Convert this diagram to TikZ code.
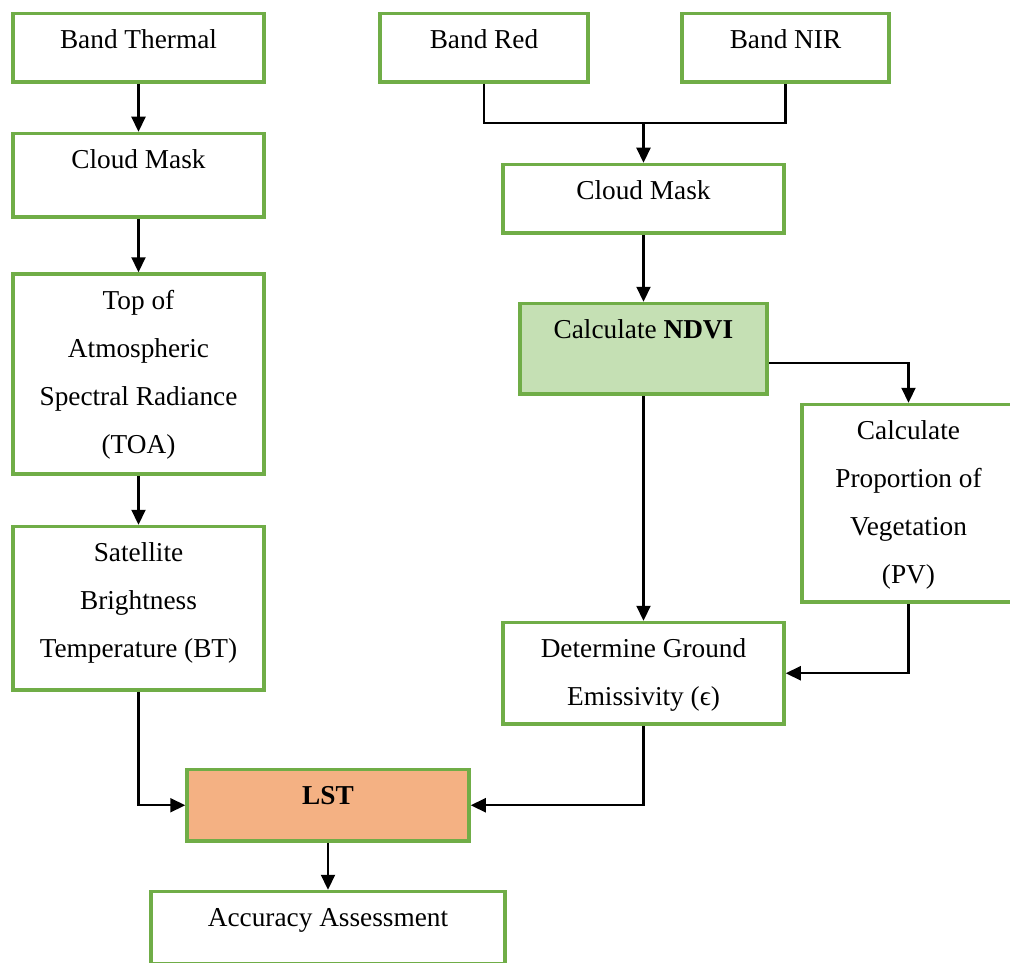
\documentclass[tikz,border=0pt]{standalone}
\usepackage{fontspec}
\setmainfont{Liberation Serif}
\usetikzlibrary{arrows.meta}
\definecolor{boxgreen}{HTML}{70AD47}
\definecolor{ndvifill}{HTML}{C5E0B4}
\definecolor{lstfill}{HTML}{F4B183}
\begin{document}
\begin{tikzpicture}[x=1pt,y=-1pt,
  box/.style={draw=boxgreen, line width=3.5pt, rectangle, inner sep=0pt, fill=white},
  lbl/.style={anchor=north, inner sep=0pt, align=center,
    font=\fontsize{27.3}{48}\selectfont, yshift=-3.4pt},
  conn/.style={line width=2.2pt},
  arr/.style={line width=2.2pt, -{Triangle[length=15pt,width=14pt]}}]
\useasboundingbox (0,0) rectangle (1010,963);

% process boxes
\node[box, minimum width=251pt, minimum height=68.5pt] (bt) at (138.5,47.75) {};
\node[box, minimum width=208pt, minimum height=68.5pt] (red) at (484,47.75) {};
\node[box, minimum width=207pt, minimum height=68.5pt] (nir) at (785.5,47.75) {};
\node[box, minimum width=251pt, minimum height=83.5pt] (cml) at (138.5,175.25) {};
\node[box, minimum width=281pt, minimum height=68.5pt] (cmr) at (643.5,198.75) {};
\node[box, minimum width=251pt, minimum height=200pt] (toa) at (138.5,374) {};
\node[box, fill=ndvifill, minimum width=247pt, minimum height=90.5pt] (ndvi) at (643.5,348.75) {};
\node[box, minimum width=213pt, minimum height=197.5pt] (pv) at (908.5,503.25) {};
\node[box, minimum width=251pt, minimum height=163.5pt] (btemp) at (138.5,608.25) {};
\node[box, minimum width=281pt, minimum height=101.5pt] (det) at (643.5,673.25) {};
\node[box, fill=lstfill, minimum width=282pt, minimum height=71.5pt] (lst) at (328,805.25) {};
\node[box, minimum width=354pt, minimum height=72.5pt] (acc) at (328,927.75) {};

% box texts, set from the top edge
\node[lbl] (bt-t) at (bt.north) {\strut Band Thermal};
\node[lbl] (red-t) at (red.north) {\strut Band Red};
\node[lbl] (nir-t) at (nir.north) {\strut Band NIR};
\node[lbl] (cml-t) at (cml.north) {\strut Cloud Mask};
\node[lbl] (cmr-t) at (cmr.north) {\strut Cloud Mask};
\node[lbl] (toa-t) at (toa.north) {\strut Top of\\Atmospheric\\Spectral Radiance\\(TOA)};
\node[lbl] (ndvi-t) at (ndvi.north) {\strut Calculate \textbf{NDVI}};
\node[lbl] (pv-t) at (pv.north) {\strut Calculate\\Proportion of\\Vegetation\\(PV)};
\node[lbl] (btemp-t) at (btemp.north) {\strut Satellite\\Brightness\\Temperature (BT)};
\node[lbl] (det-t) at (det.north) {\strut Determine Ground\\Emissivity (ϵ)};
\node[lbl] (lst-t) at (lst.north) {\strut\textbf{LST}};
\node[lbl] (acc-t) at (acc.north) {\strut Accuracy Assessment};

% connectors
\coordinate (join) at (643.5,123);
\draw[arr] (bt) -- (cml);
\draw[arr] (cml) -- (toa);
\draw[arr] (toa) -- (btemp);
\draw[arr] (btemp.south) |- (lst.west);
\draw[conn] (red.south) |- (join) -| (nir.south);
\draw[arr] (join) -- (cmr.north);
\draw[arr] (cmr) -- (ndvi);
\draw[arr] (ndvi.east |- 0,363) -| (pv.north);
\draw[arr] (ndvi) -- (det);
\draw[arr] (pv.south) |- (det.east);
\draw[arr] (det.south) |- (lst.east);
\draw[arr] (lst) -- (acc);
\end{tikzpicture}
\end{document}
